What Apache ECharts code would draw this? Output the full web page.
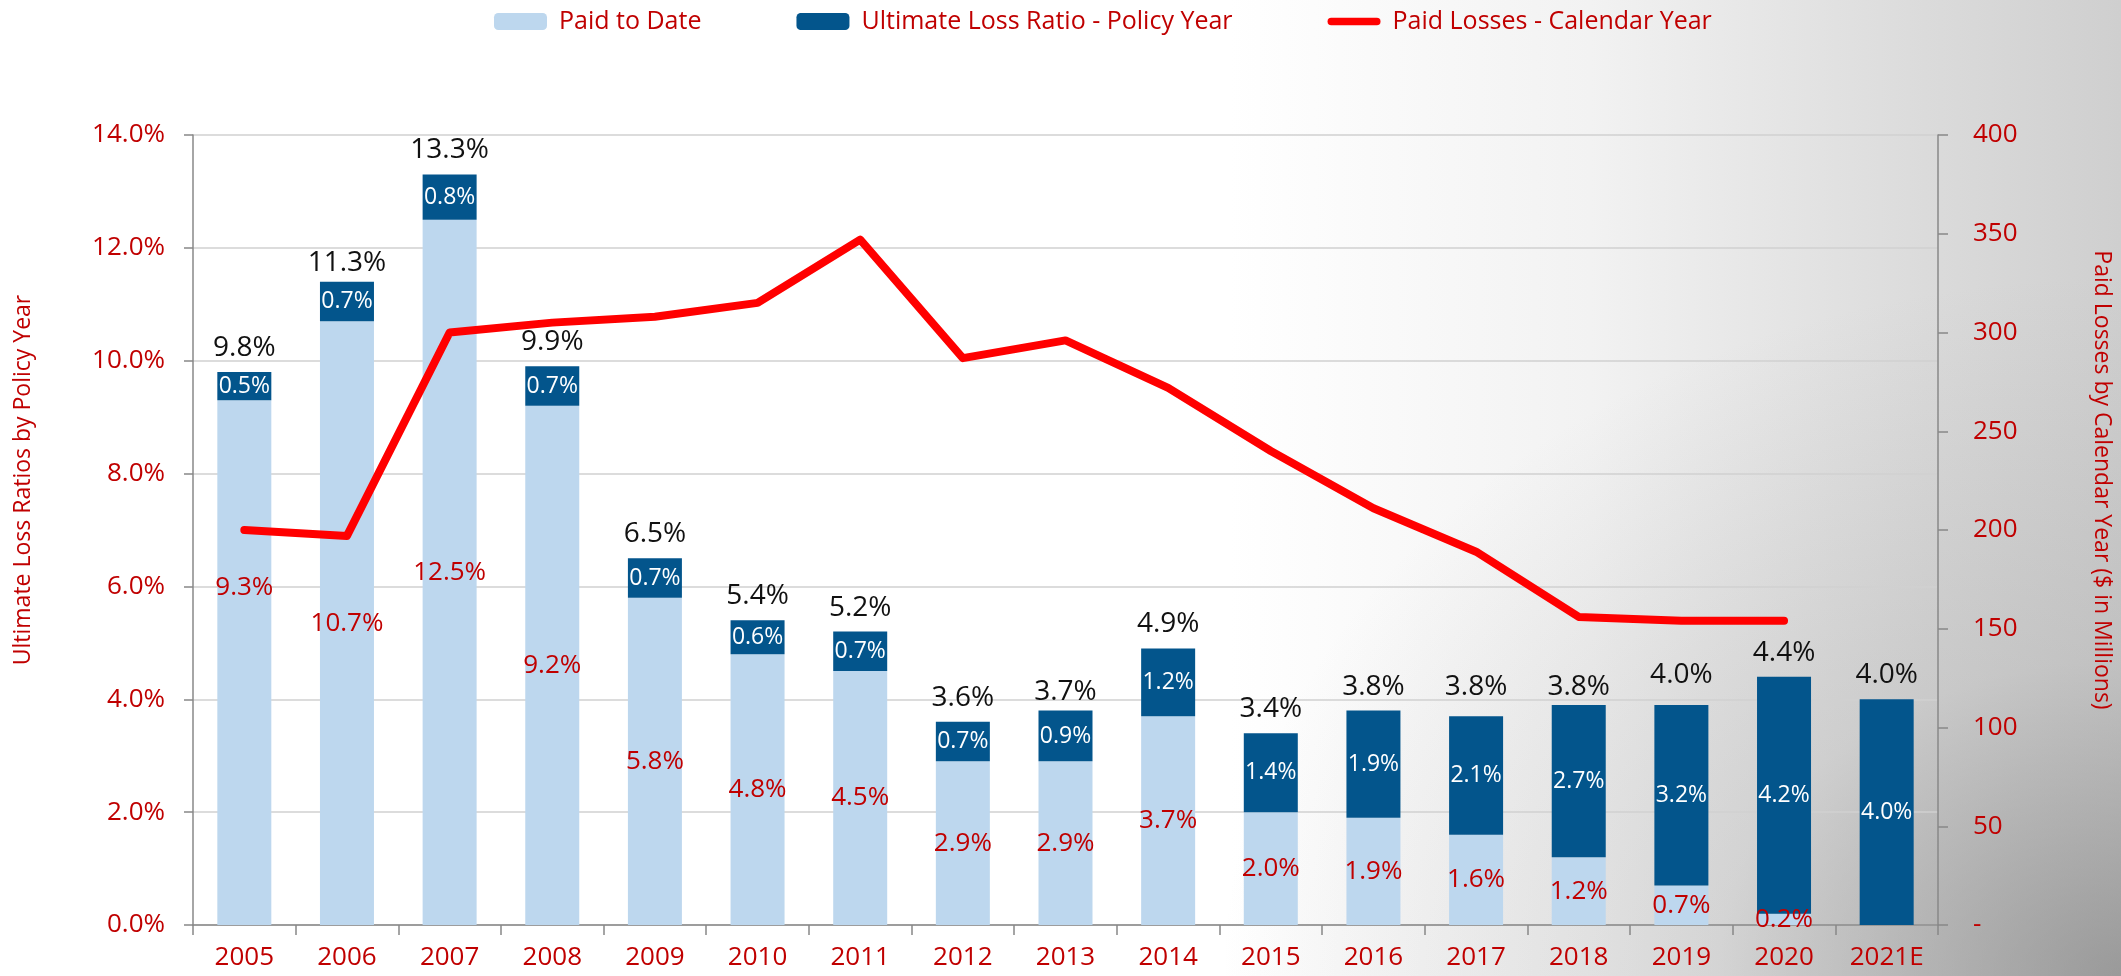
<!DOCTYPE html>
<html>
<head>
<meta charset="utf-8">
<title>Loss Ratios</title>
<script src="https://cdn.jsdelivr.net/npm/echarts@6/dist/echarts.min.js"></script>
<style>
  html, body { margin: 0; padding: 0; }
  body {
    width: 2121px;
    height: 976px;
    /* white slide with grey shading towards the right edge */
    background:
      radial-gradient(ellipse 900px 700px at 100% 100%, rgba(110,110,110,0.55) 0%, rgba(150,150,150,0.25) 45%, rgba(255,255,255,0) 100%),
      linear-gradient(to right, #ffffff 0%, #ffffff 58%, #f2f2f2 75%, #dcdcdc 90%, #cfcfcf 100%);
  }
  #chart { width: 2121px; height: 976px; }
</style>
</head>
<body>
<div id="chart"></div>
<script>
const years = ["2005", "2006", "2007", "2008", "2009", "2010", "2011", "2012", "2013",
  "2014", "2015", "2016", "2017", "2018", "2019", "2020", "2021E"];
// % of premium
const paidToDate = [9.3, 10.7, 12.5, 9.2, 5.8, 4.8, 4.5, 2.9, 2.9, 3.7, 2.0, 1.9, 1.6, 1.2, 0.7, 0.2, 0];
const ultimateRest = [0.5, 0.7, 0.8, 0.7, 0.7, 0.6, 0.7, 0.7, 0.9, 1.2, 1.4, 1.9, 2.1, 2.7, 3.2, 4.2, 4.0];
const ultimateTotal = [9.8, 11.3, 13.3, 9.9, 6.5, 5.4, 5.2, 3.6, 3.7, 4.9, 3.4, 3.8, 3.8, 3.8, 4.0, 4.4, 4.0];
// $ millions
const paidLosses = [200, 197, 300, 305, 308, 315, 347, 287, 296, 272, 240, 211, 189, 156, 154, 154, null];

const RED_TEXT = "#C00000";
const FONT = "Open Sans";

// 2005 label sits higher in the original
const paidData = paidToDate.map(function (v, i) {
  if (i === 0) return { value: v, label: { offset: [0, -75] } };
  return v;
});

const option = {
  animation: false,
  backgroundColor: "transparent",
  textStyle: { fontFamily: FONT },
  legend: {
    data: [
      "Paid to Date",
      "Ultimate Loss Ratio - Policy Year",
      {
        name: "Paid Losses - Calendar Year",
        // thick rounded bar like the original line key
        icon: "path://M4,0 L53,0 A4,4 0 0 1 53,8 L4,8 A4,4 0 0 1 4,0 Z",
        itemStyle: { color: "#FF0000" }
      }
    ],
    left: 489,
    top: 4,
    itemWidth: 53,
    itemHeight: 17,
    itemGap: 95,
    textStyle: { color: RED_TEXT, fontSize: 25, fontFamily: FONT, padding: [0, 0, 0, 7] }
  },
  grid: { left: 193, right: 169, top: 135, bottom: 51, containLabel: false },
  xAxis: {
    type: "category",
    data: years,
    axisLine: { lineStyle: { color: "#888888", width: 1.5 } },
    axisTick: { show: true, length: 10, lineStyle: { color: "#888888", width: 1.5 } },
    axisLabel: { color: RED_TEXT, fontSize: 26, fontFamily: FONT, margin: 20 }
  },
  yAxis: [
    {
      type: "value",
      min: 0,
      max: 14,
      interval: 2,
      name: "Ultimate Loss Ratios by Policy Year",
      nameLocation: "middle",
      nameGap: 158,
      nameTextStyle: { color: RED_TEXT, fontSize: 23, fontFamily: FONT, padding: [0, 0, 0, 100] },
      axisLine: { show: true, lineStyle: { color: "#888888", width: 1.5 } },
      axisTick: { show: true, length: 9, lineStyle: { color: "#888888", width: 1.5 } },
      axisLabel: {
        color: RED_TEXT, fontSize: 26, fontFamily: FONT, margin: 28,
        formatter: function (v) { return v.toFixed(1) + "%"; }
      },
      splitLine: { lineStyle: { color: "#D0D0D0", width: 1.5 } }
    },
    {
      type: "value",
      min: 0,
      max: 400,
      interval: 50,
      position: "right",
      name: "Paid Losses by Calendar Year ($ in Millions)",
      nameLocation: "middle",
      nameGap: 152,
      nameRotate: -90,
      nameTextStyle: { color: RED_TEXT, fontSize: 23, fontFamily: FONT, padding: [0, 100, 0, 0] },
      axisLine: { show: true, lineStyle: { color: "#888888", width: 1.5 } },
      axisTick: { show: true, length: 10, lineStyle: { color: "#888888", width: 1.5 } },
      axisLabel: {
        color: RED_TEXT, fontSize: 26, fontFamily: FONT, margin: 35,
        formatter: function (v) { return v === 0 ? "-" : String(v); }
      },
      splitLine: { show: false }
    }
  ],
  series: [
    {
      name: "Paid to Date",
      type: "bar",
      stack: "lr",
      barWidth: 54,
      itemStyle: { color: "#BDD7EE" },
      label: {
        show: true,
        position: "inside",
        color: RED_TEXT,
        fontSize: 26,
        fontFamily: FONT,
        formatter: function (p) { return p.value > 0 ? p.value.toFixed(1) + "%" : ""; }
      },
      data: paidData
    },
    {
      name: "Ultimate Loss Ratio - Policy Year",
      type: "bar",
      stack: "lr",
      barWidth: 54,
      itemStyle: { color: "#03558C" },
      label: {
        show: true,
        position: "inside",
        color: "#ffffff",
        fontSize: 23,
        fontFamily: FONT,
        formatter: function (p) { return p.value.toFixed(1) + "%"; }
      },
      data: ultimateRest
    },
    {
      // invisible bars, only carry the total label above each column
      name: "total",
      type: "bar",
      barWidth: 54,
      barGap: "-100%",
      itemStyle: { color: "rgba(0,0,0,0)" },
      label: {
        show: true,
        position: "top",
        distance: 10,
        color: "#111111",
        fontSize: 28,
        fontFamily: FONT,
        formatter: function (p) { return p.value.toFixed(1) + "%"; }
      },
      z: 1,
      data: ultimateTotal
    },
    {
      name: "Paid Losses - Calendar Year",
      type: "line",
      yAxisIndex: 1,
      symbol: "none",
      itemStyle: { color: "#FF0000" },
      lineStyle: { color: "#FF0000", width: 8, cap: "round", join: "round" },
      z: 5,
      data: paidLosses
    }
  ]
};

let myChart = echarts.init(document.getElementById("chart"));
myChart.setOption(option);
window.onresize = function () {
  myChart.resize();
};
</script>
</body>
</html>
